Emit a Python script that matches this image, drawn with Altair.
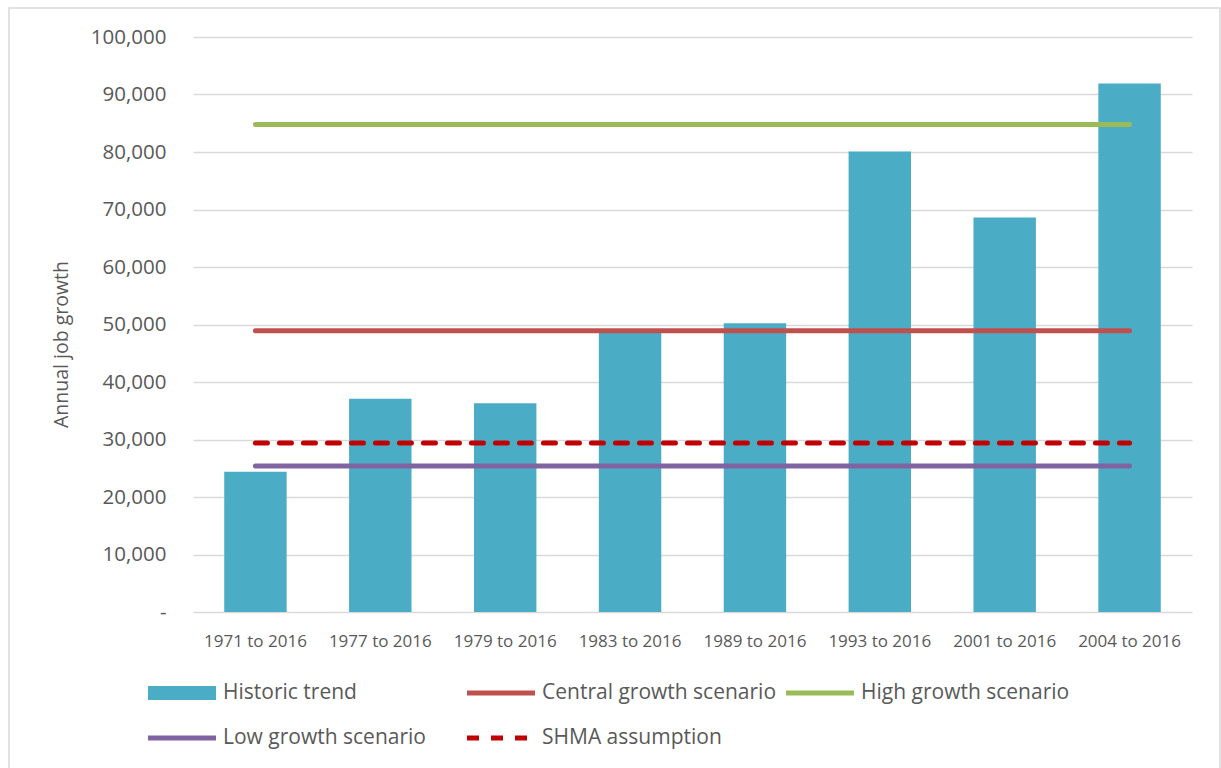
import altair as alt
import pandas as pd

# Historic annual job growth by period
periods = ["1971 to 2016", "1977 to 2016", "1979 to 2016", "1983 to 2016",
           "1989 to 2016", "1993 to 2016", "2001 to 2016", "2004 to 2016"]
historic = [24400, 37100, 36300, 48800, 50200, 80100, 68600, 91900]

# Scenario assumptions (flat annual rates)
scenario_names = ["Central growth scenario", "High growth scenario",
                  "Low growth scenario", "SHMA assumption"]
scenario_values = [48900, 84800, 25400, 29400]

series_order = ["Historic trend", "Central growth scenario", "High growth scenario",
                "Low growth scenario", "SHMA assumption"]
series_colors = ["#4BACC6", "#C0504D", "#9BBB59", "#8064A2", "#C00000"]
series_dashes = [[1, 0], [1, 0], [1, 0], [1, 0], [12, 12]]
series_widths = [14, 5, 5, 5, 5]

y_ticks = list(range(0, 100001, 10000))

bars_df = pd.DataFrame({"period": periods, "jobs": historic})
lines_df = pd.DataFrame(
    [{"period": p, "series": s, "jobs": v}
     for s, v in zip(scenario_names, scenario_values) for p in periods]
)

FONT = "Open Sans"
GREY_TEXT = "#595959"
GRID = "#D9D9D9"

x_scale = alt.Scale(domain=periods, paddingInner=0.5, paddingOuter=0.25)
y_scale = alt.Scale(domain=[0, 100000], nice=False)

x_axis = alt.Axis(title=None, labelAngle=0, ticks=False, tickSize=0, domain=False,
                  labelFont=FONT, labelFontSize=17, labelColor=GREY_TEXT,
                  labelPadding=21, labelBaseline="top")
y_axis = alt.Axis(title="Annual job growth", values=y_ticks, ticks=False, tickSize=0,
                  domain=False, grid=True, gridColor=GRID, gridWidth=1.5,
                  labelFont=FONT, labelFontSize=20.5, labelColor=GREY_TEXT,
                  labelPadding=27,
                  labelExpr="datum.value === 0 ? '-\u00a0\u00a0' : format(datum.value, ',')",
                  titleFont=FONT, titleFontSize=19.5, titleFontWeight="normal",
                  titleColor=GREY_TEXT, titleAngle=-90, titleX=-132, titleY=307,
                  titleAlign="center", titleBaseline="middle")

bars = alt.Chart(bars_df).mark_bar(color="#4BACC6").encode(
    x=alt.X("period:N", scale=x_scale, axis=x_axis, sort=periods),
    y=alt.Y("jobs:Q", scale=y_scale, axis=y_axis),
)

legend = alt.Legend(
    title=None, orient="none", legendX=-52, legendY=646, columns=3,
    direction="horizontal", gridAlign="all", columnPadding=2, rowPadding=24,
    clipHeight=20, padding=0, symbolType="stroke", symbolSize=4624,
    symbolOffset=0, labelOffset=0, labelLimit=400,
    labelFont=FONT, labelFontSize=21, labelColor=GREY_TEXT, labelBaseline="middle",
)

lines = alt.Chart(lines_df).mark_line(strokeCap="round").encode(
    x=alt.X("period:N", scale=x_scale, sort=periods),
    y=alt.Y("jobs:Q", scale=y_scale),
    color=alt.Color("series:N", scale=alt.Scale(domain=series_order, range=series_colors),
                    legend=legend),
    strokeDash=alt.StrokeDash("series:N",
                              scale=alt.Scale(domain=series_order, range=series_dashes),
                              legend=legend),
    strokeWidth=alt.StrokeWidth("series:N",
                                scale=alt.Scale(type="ordinal", domain=series_order,
                                                range=series_widths),
                                legend=legend),
    detail="series:N",
)

# Light border round the whole chart area
frame = alt.Chart(pd.DataFrame({"frame": [0]})).mark_rect(
    fill="transparent", stroke=GRID, strokeWidth=1.5
).encode(
    x=alt.value(-184), x2=alt.value(1027), y=alt.value(-29), y2=alt.value(760)
)

chart = alt.layer(frame, bars, lines).properties(
    width=999, height=575,
    autosize=alt.AutoSizeParams(type="none"),
    padding={"left": 193, "top": 37, "right": 29, "bottom": 156},
    background="white",
).configure_view(stroke=None)

chart.save("out.html", embed_options={"renderer": "svg", "actions": False})
